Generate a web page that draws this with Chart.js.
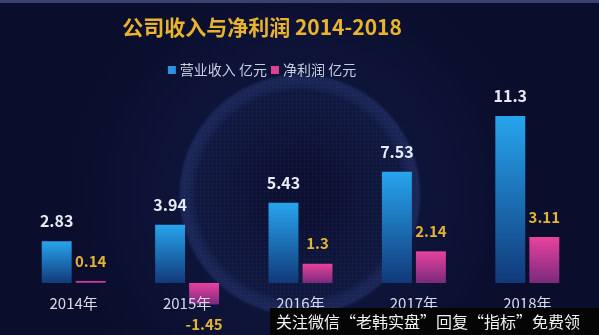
<!DOCTYPE html>
<html>
<head>
<meta charset="utf-8">
<script src="https://cdn.jsdelivr.net/npm/chart.js@4/dist/chart.umd.min.js"></script>
<style>
  html, body { margin: 0; padding: 0; background: #0a0e2c; }
  #wrap { width: 599px; height: 335px; position: relative; }
</style>
</head>
<body>
<div id="wrap"><canvas id="chart" width="599" height="335"></canvas></div>
<script>
// Chart data
const years = ['2014年', '2015年', '2016年', '2017年', '2018年'];
const revenue = [2.83, 3.94, 5.43, 7.53, 11.3];
const netProfit = [0.14, -1.45, 1.3, 2.14, 3.11];
const seriesNames = ['营业收入 亿元', '净利润 亿元'];
const titleText = '公司收入与净利润 2014-2018';
const watermark = '关注微信“老韩实盘”回复“指标”免费领';

const FONT = '"Noto Sans CJK SC", "Noto Sans", sans-serif';

// vertical gradient for one bar, bright at the zero end for negative bars
function barGradient(top, bottom) {
    return function (c) {
        const chart = c.chart;
        if (!chart.chartArea) return top;
        const y = chart.scales.y;
        const p0 = y.getPixelForValue(0);
        const p1 = y.getPixelForValue(c.raw);
        const g = chart.ctx.createLinearGradient(0, Math.min(p0, p1), 0, Math.max(p0, p1) + 0.01);
        g.addColorStop(0, top);
        g.addColorStop(1, bottom);
        return g;
    };
}

// background: navy field, faint glowing sphere, top strip
const bgPlugin = {
    id: 'bg',
    beforeDraw(chart) {
        const ctx = chart.ctx;
        const w = chart.width, h = chart.height;
        ctx.save();
        ctx.fillStyle = '#0a0d2b';
        ctx.fillRect(0, 0, w, h);

        const halo = ctx.createRadialGradient(300, 195, 60, 300, 195, 260);
        halo.addColorStop(0, 'rgba(30, 50, 110, 0.3)');
        halo.addColorStop(0.5, 'rgba(25, 40, 95, 0.2)');
        halo.addColorStop(1, 'rgba(10, 13, 43, 0)');
        ctx.fillStyle = halo;
        ctx.fillRect(0, 0, w, h);

        const sphere = ctx.createRadialGradient(300, 195, 20, 300, 195, 122);
        sphere.addColorStop(0, 'rgba(12, 16, 48, 0.9)');
        sphere.addColorStop(0.82, 'rgba(18, 26, 66, 0.8)');
        sphere.addColorStop(0.97, 'rgba(50, 70, 140, 0.35)');
        sphere.addColorStop(1, 'rgba(40, 60, 130, 0)');
        ctx.fillStyle = sphere;
        ctx.beginPath();
        ctx.arc(300, 195, 122, 0, Math.PI * 2);
        ctx.fill();

        // dotted texture
        ctx.fillStyle = 'rgba(110, 130, 200, 0.15)';
        for (let yy = 75; yy < 318; yy += 4) {
            for (let xx = 180; xx < 422; xx += 4) {
                const dx = xx - 300, dy = yy - 195;
                if (dx * dx + dy * dy < 118 * 118) ctx.fillRect(xx, yy, 1, 1);
            }
        }

        ctx.fillStyle = '#3a4270';
        ctx.fillRect(0, 0, w, 3);
        ctx.restore();
    }
};

// title and legend, centred a bit left of the canvas centre like the source
const headPlugin = {
    id: 'head',
    afterDraw(chart) {
        const ctx = chart.ctx;
        ctx.save();
        ctx.textBaseline = 'middle';
        ctx.textAlign = 'center';
        ctx.fillStyle = '#e9b42c';
        ctx.font = 'bold 21px ' + FONT;
        ctx.fillText(titleText, 262, 27);

        ctx.font = '14px ' + FONT;
        ctx.textAlign = 'left';
        const colors = ['#2e92e4', '#e0418f'];
        const widths = seriesNames.map(s => ctx.measureText(s).width);
        const total = widths[0] + widths[1] + 2 * (8 + 4) + 4;
        let x = 262 - total / 2;
        seriesNames.forEach((name, i) => {
            ctx.fillStyle = colors[i];
            ctx.fillRect(x, 66, 8, 8);
            x += 12;
            ctx.fillStyle = '#c8cfe2';
            ctx.fillText(name, x, 70);
            x += widths[i] + 4;
        });
        ctx.restore();
    }
};

// value labels on each bar
const valuePlugin = {
    id: 'values',
    afterDatasetsDraw(chart) {
        const ctx = chart.ctx;
        ctx.save();
        ctx.textAlign = 'center';
        ctx.textBaseline = 'middle';
        chart.data.datasets.forEach((ds, di) => {
            const meta = chart.getDatasetMeta(di);
            meta.data.forEach((bar, i) => {
                const v = ds.data[i];
                if (di === 0) {
                    ctx.font = 'bold 16px ' + FONT;
                    ctx.fillStyle = '#e6ebf5';
                } else {
                    ctx.font = 'bold 15px ' + FONT;
                    ctx.fillStyle = '#e2b436';
                }
                const y = v >= 0 ? bar.y - 20 : bar.y + 20;
                ctx.fillText(String(v), bar.x, y);
            });
        });
        ctx.restore();
    }
};

// watermark strip in the bottom right corner
const markPlugin = {
    id: 'mark',
    afterDraw(chart) {
        const ctx = chart.ctx;
        ctx.save();
        ctx.fillStyle = '#050505';
        ctx.fillRect(270, 308, 329, 27);
        ctx.fillStyle = '#f2f2f2';
        ctx.font = '16px ' + FONT;
        ctx.textBaseline = 'middle';
        ctx.textAlign = 'left';
        ctx.fillText(watermark, 276, 322);
        ctx.restore();
    }
};

new Chart(document.getElementById('chart'), {
    type: 'bar',
    data: {
        labels: years,
        datasets: [
            {
                label: seriesNames[0],
                data: revenue,
                backgroundColor: barGradient('#27a5ee', '#11397a')
            },
            {
                label: seriesNames[1],
                data: netProfit,
                backgroundColor: barGradient('#e8429f', '#7a2a7c')
            }
        ]
    },
    options: {
        responsive: false,
        animation: false,
        categoryPercentage: 0.6,
        barPercentage: 0.88,
        layout: { padding: { left: 17, right: 15, top: 95, bottom: 5 } },
        plugins: {
            legend: { display: false },
            title: { display: false },
            tooltip: { enabled: false }
        },
        scales: {
            x: {
                position: { y: 0 },
                grid: { display: false },
                border: { display: false },
                ticks: {
                    z: 1, // labels sit on top of the negative bar
                    color: '#d6dbe8',
                    padding: 3,
                    font: { family: FONT, size: 15 }
                }
            },
            y: {
                display: false,
                min: -3.18,
                max: 12.72
            }
        }
    },
    plugins: [bgPlugin, valuePlugin, headPlugin, markPlugin]
});
</script>
</body>
</html>
